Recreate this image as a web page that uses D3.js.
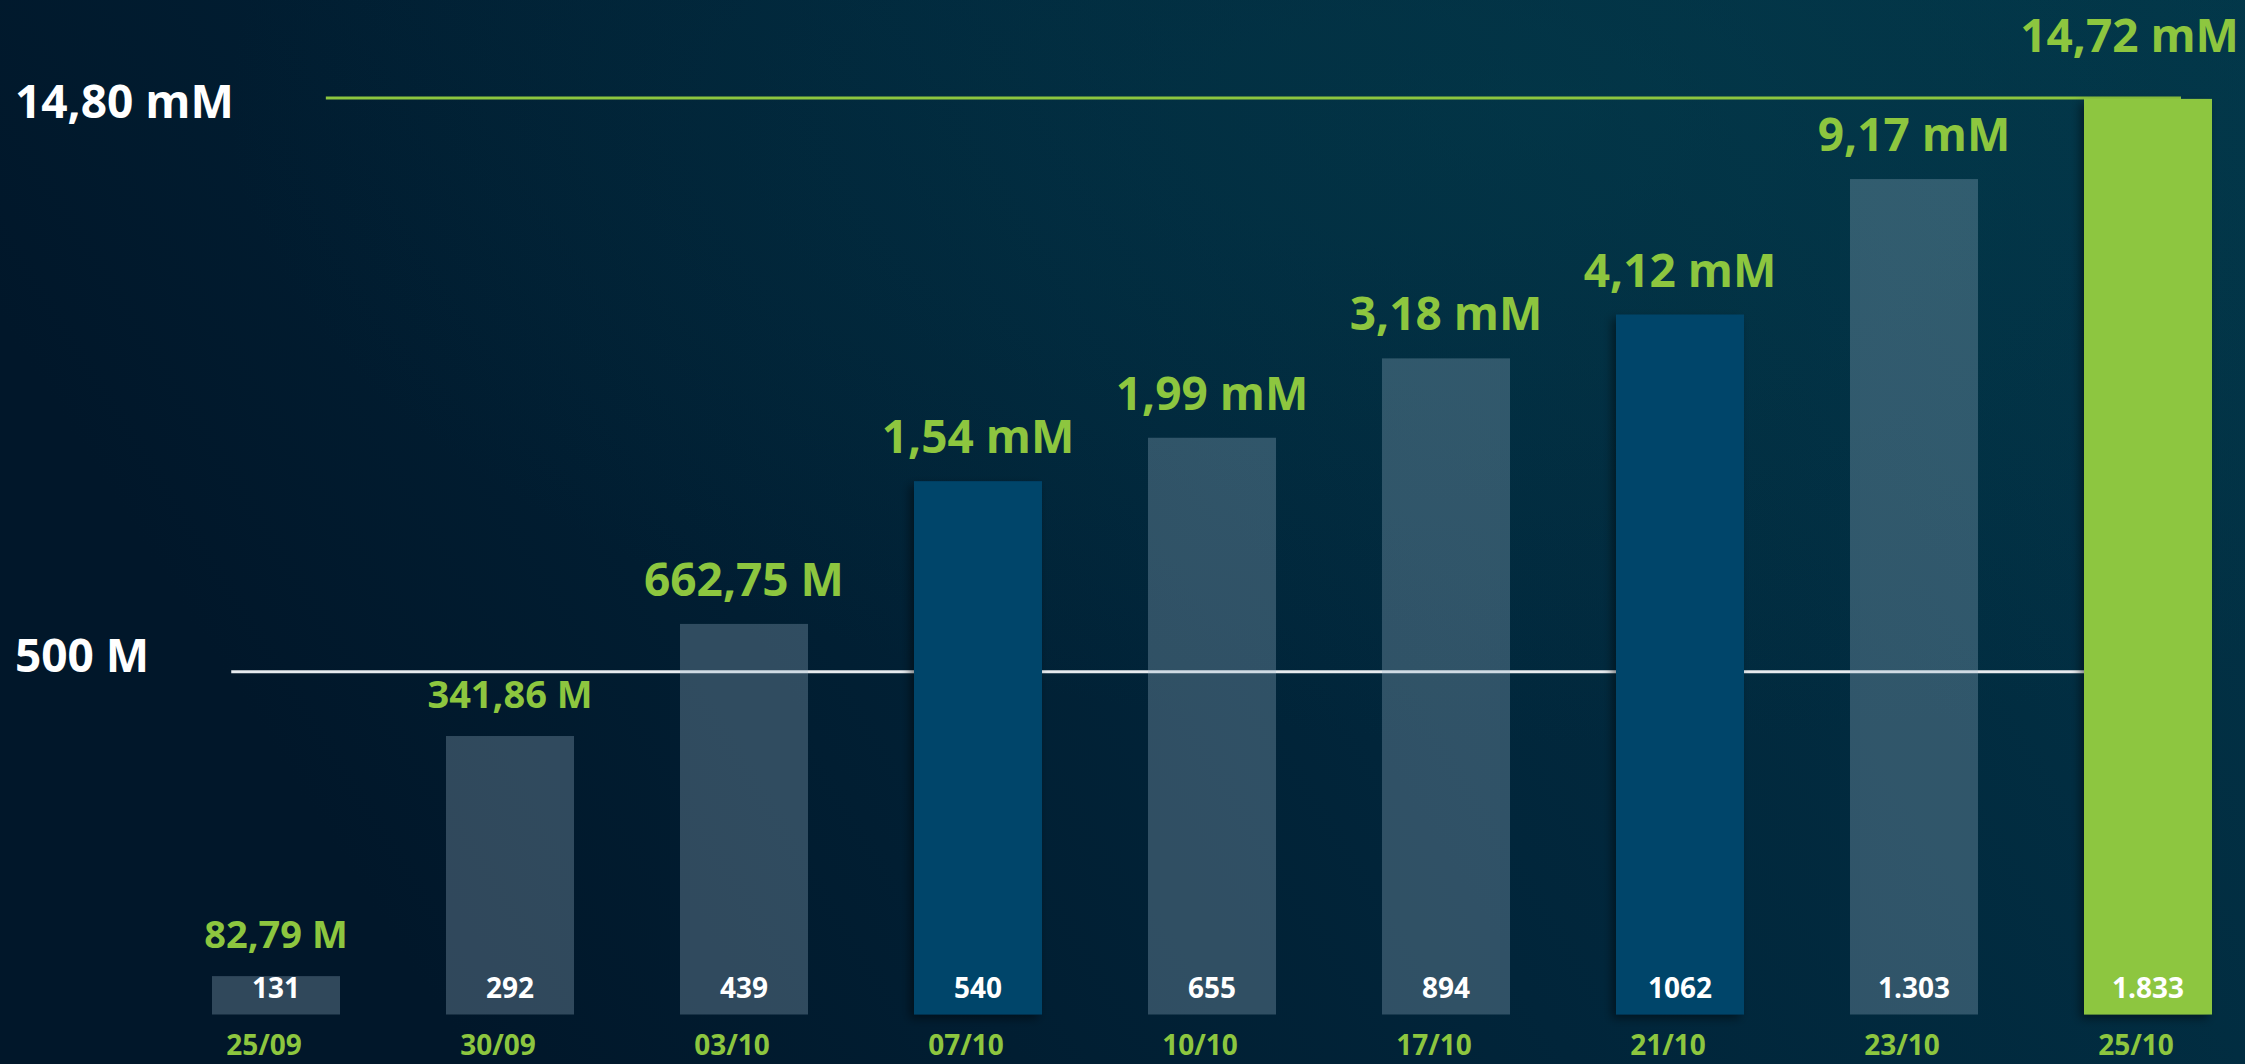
<!DOCTYPE html>
<html>
<head>
<meta charset="utf-8">
<script src="https://cdn.jsdelivr.net/npm/d3@7"></script>
<style>
  html, body { margin: 0; padding: 0; background: #011a2e; overflow: hidden; }
  svg { display: block; }
  text { font-family: "Open Sans", "Liberation Sans", sans-serif; font-weight: 700; }
</style>
</head>
<body>
<svg id="chart" width="2245" height="1064"></svg>
<script>
// ---- data ----
const dates = ["25/09", "30/09", "03/10", "07/10", "10/10", "17/10", "21/10", "23/10", "25/10"];
const volumesM = [82.79, 341.86, 662.75, 1540, 1990, 3180, 4120, 9170, 14720]; // in millions
const volumeLabels = ["82,79 M", "341,86 M", "662,75 M", "1,54 mM", "1,99 mM", "3,18 mM", "4,12 mM", "9,17 mM", "14,72 mM"];
const counts = ["131", "292", "439", "540", "655", "894", "1062", "1.303", "1.833"];
const barKinds = ["gray", "gray", "gray", "blue", "gray", "gray", "blue", "gray", "green"];
const refValues = [500, 14800];
const refLabels = ["500 M", "14,80 mM"];
const refKinds = ["white", "green"];

// ---- layout ----
const W = 2245, H = 1064;
const baseY = 1014.5;
const barW = 128;
const GREEN = "#8dc63f";
const colors = { gray: "rgba(160,185,205,0.30)", blue: "#04446a", green: "#8dc63f" };

const svg = d3.select("#chart");
const defs = svg.append("defs");

const bg = defs.append("linearGradient").attr("id", "bg")
  .attr("x1", "0").attr("y1", "0.3").attr("x2", "1").attr("y2", "0");
bg.append("stop").attr("offset", "0").attr("stop-color", "#01172a");
bg.append("stop").attr("offset", "0.45").attr("stop-color", "#01253a");
bg.append("stop").attr("offset", "1").attr("stop-color", "#023548");

const glow = defs.append("radialGradient").attr("id", "glow")
  .attr("cx", "0.7").attr("cy", "0.1").attr("r", "0.6");
glow.append("stop").attr("offset", "0").attr("stop-color", "#04404f").attr("stop-opacity", 0.45);
glow.append("stop").attr("offset", "1").attr("stop-color", "#04404f").attr("stop-opacity", 0);

const shadow = defs.append("filter").attr("id", "shadow")
  .attr("x", "-30%").attr("y", "-10%").attr("width", "160%").attr("height", "130%");
shadow.append("feDropShadow").attr("dx", -4).attr("dy", 4).attr("stdDeviation", 5)
  .attr("flood-color", "#000").attr("flood-opacity", 0.45);

svg.append("rect").attr("width", W).attr("height", H).attr("fill", "url(#bg)");
svg.append("rect").attr("width", W).attr("height", H).attr("fill", "url(#glow)");

// ---- scales ----
const x = d3.scalePoint().domain(dates).range([276, 2148]);
const y = d3.scaleLog().domain([66, 14800]).range([baseY, 98]);

// ---- reference lines ----
const refs = refValues.map((v, i) => ({ v, label: refLabels[i], kind: refKinds[i] }));
const refG = svg.append("g");
refs.forEach(r => {
  const t = refG.append("text")
    .attr("x", 15)
    .attr("y", r.kind === "green" ? y(r.v) + 20 : y(r.v))
    .attr("fill", "#ffffff")
    .attr("font-size", 46)
    .text(r.label);
  const len = t.node().getComputedTextLength();
  refG.append("line")
    .attr("x1", 15 + len + (r.kind === "green" ? 92 : 82))
    .attr("x2", r.kind === "green" ? x(dates[dates.length - 1]) + 33 : x(dates[dates.length - 1]))
    .attr("y1", y(r.v)).attr("y2", y(r.v))
    .attr("stroke", r.kind === "green" ? GREEN : "#e6eaee")
    .attr("stroke-width", 3);
});

// ---- bars ----
const data = dates.map((d, i) => ({
  date: d, v: volumesM[i], label: volumeLabels[i], count: counts[i], kind: barKinds[i]
}));

svg.append("g").selectAll("rect").data(data).join("rect")
  .attr("x", d => x(d.date) - barW / 2)
  .attr("y", d => y(d.v))
  .attr("width", barW)
  .attr("height", d => baseY - y(d.v))
  .attr("fill", d => colors[d.kind])
  .attr("filter", d => d.kind === "gray" ? null : "url(#shadow)");

// value labels above bars (kept inside the picture)
svg.append("g").selectAll("text").data(data).join("text")
  .attr("y", d => y(d.v) - (Math.abs(y(d.v) - y(refValues[1])) < 6 ? 47 : 28))
  .attr("text-anchor", "middle")
  .attr("fill", GREEN)
  .attr("font-size", d => d.v < refValues[0] ? 38 : 46)
  .text(d => d.label)
  .attr("x", function (d) {
    const w = this.getComputedTextLength();
    return Math.min(x(d.date), W - w / 2 - 6);
  });

// count labels inside bars
svg.append("g").selectAll("text").data(data).join("text")
  .attr("x", d => x(d.date))
  .attr("y", baseY - 17)
  .attr("text-anchor", "middle")
  .attr("fill", "#ffffff")
  .attr("font-size", 28)
  .text(d => d.count);

// date labels below
svg.append("g").selectAll("text").data(data).join("text")
  .attr("x", d => x(d.date) - 12)
  .attr("y", 1055)
  .attr("text-anchor", "middle")
  .attr("fill", GREEN)
  .attr("font-size", 28)
  .text(d => d.date);
</script>
</body>
</html>
